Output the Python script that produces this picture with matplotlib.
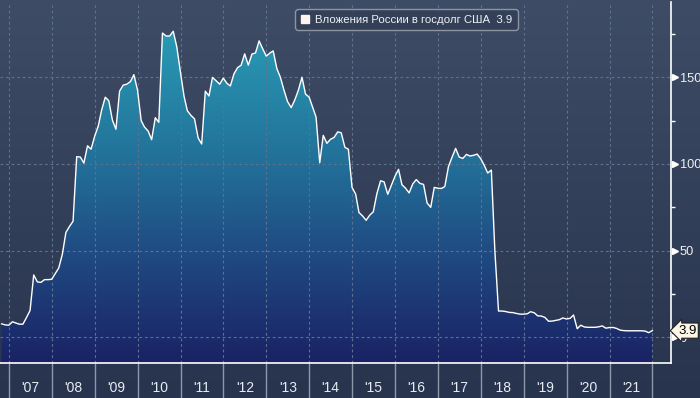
import matplotlib
matplotlib.use("Agg")
import matplotlib.pyplot as plt
import matplotlib.dates as mdates
import numpy as np
import pandas as pd
from matplotlib.colors import LinearSegmentedColormap
from matplotlib.lines import Line2D

plt.rcParams['font.family'] = ['Liberation Sans', 'DejaVu Sans']

# Вложения России в госдолг США, млрд долл. (месячные данные, окт. 2006 - дек. 2021)
start = '2006-10-31'
values = [
    7.8, 7.2, 7.0,
    9.0, 8.3, 7.6, 7.6, 11.5, 15.5, 36.0, 32.0, 31.7, 33.3, 33.3, 33.5,
    36.9, 40.0, 48.0, 60.5, 64.0, 67.0, 104.2, 104.0, 100.5, 110.5, 108.5, 116.0,
    122.0, 131.0, 138.5, 136.5, 125.3, 120.0, 142.0, 145.5, 146.0, 147.5, 151.5, 142.5,
    125.0, 121.3, 119.0, 114.0, 126.7, 124.0, 175.5, 173.8, 173.8, 176.5, 167.6, 153.0,
    139.0, 130.7, 128.0, 126.0, 115.0, 111.5, 142.0, 139.2, 149.9, 148.0, 146.0, 149.5,
    146.5, 145.0, 152.0, 155.5, 157.0, 163.5, 157.0, 163.4, 164.0, 171.0, 166.5, 162.2,
    164.0, 165.2, 155.0, 150.0, 142.5, 136.0, 132.5, 137.0, 142.5, 150.0, 140.3, 138.5,
    132.5, 127.0, 100.7, 116.5, 111.9, 114.2, 115.3, 118.5, 118.0, 109.6, 108.5, 86.5,
    82.6, 72.0, 70.0, 67.5, 70.5, 72.4, 83.0, 90.3, 89.7, 82.5, 87.5, 92.8,
    96.9, 88.0, 86.0, 83.3, 88.5, 91.0, 88.8, 88.2, 77.5, 75.0, 86.5, 86.0,
    85.9, 87.0, 98.5, 103.8, 109.0, 104.0, 103.2, 105.5, 104.6, 105.0, 105.7, 103.0,
    99.0, 94.8, 96.5, 50.0, 15.2, 15.2, 14.9, 14.4, 14.3, 13.8, 13.4, 13.4,
    13.6, 14.8, 14.2, 12.4, 12.3, 11.5, 9.3, 9.4, 9.8, 10.2, 11.2, 10.6,
    11.0, 12.9, 5.0, 7.0, 6.0, 5.8, 5.8, 5.8, 6.1, 6.6, 5.3, 5.7,
    5.7, 5.2, 4.2, 3.9, 3.8, 3.8, 3.8, 3.8, 3.8, 3.6, 2.7, 3.9,
]
dates = pd.date_range(start, periods=len(values), freq='ME')

series_label = 'Вложения России в госдолг США'
last_value = 3.9
years = list(range(2007, 2022))
year_labels = ["'%02d" % (y % 100) for y in years]
y_major = [0, 50, 100, 150]
y_minor = [25, 75, 125, 175]

xmin, xmax = pd.Timestamp('2006-10-17'), pd.Timestamp('2022-06-05')
ymin, ymax = -14.6, 193.4

fig = plt.figure(figsize=(7, 3.98), dpi=100)

# фон всей картинки - вертикальный градиент
bg = fig.add_axes([0, 0, 1, 1], zorder=-10)
bg_cmap = LinearSegmentedColormap.from_list('bg', ['#28344e', '#3f4c66'])
bg.imshow(np.linspace(0, 1, 256).reshape(-1, 1), aspect='auto', cmap=bg_cmap,
          origin='lower', extent=[0, 1, 0, 1])
bg.axis('off')

ax = fig.add_axes([0, 35.3 / 398, 670.7 / 700, 360.7 / 398])
ax.set_facecolor('none')

# заливка с градиентом под линией
fill_cmap = LinearSegmentedColormap.from_list(
    'fill', [(0.0, '#1a2264'), (0.3, '#1f4a82'), (0.55, '#226f98'), (1.0, '#2aa4bb')])
poly = ax.fill_between(dates, values, ymin, facecolor='none', edgecolor='none')
x0n, x1n = mdates.date2num(xmin), mdates.date2num(xmax)
im = ax.imshow(np.linspace(0, 1, 256).reshape(-1, 1), aspect='auto', cmap=fill_cmap,
               origin='lower', extent=[x0n, x1n, ymin, ymax], zorder=1)
im.set_clip_path(poly.get_paths()[0], ax.transData)
ax.set_xlim(xmin, xmax)
ax.set_ylim(ymin, ymax)

ax.plot(dates, values, color='white', lw=1.0, zorder=3)

# сетка
grid_kw = dict(color='#5d7190', lw=0.8, linestyle=(0, (2.5, 2.5)), zorder=2)
for v in y_major:
    ax.axhline(v, **grid_kw)
for y in years + [2022]:
    ax.axvline(pd.Timestamp(f'{y}-01-01'), **grid_kw)

# ось X: разделители годов и подписи по центру года
ax.set_xticks([pd.Timestamp(f'{y}-01-01') for y in years + [2022]])
ax.set_xticks([pd.Timestamp(f'{y}-07-02') for y in years], minor=True)
ax.set_xticklabels([], minor=False)
ax.set_xticklabels(year_labels, minor=True)
ax.tick_params(axis='x', which='major', direction='out', length=26, width=1, color='#8e98aa')
ax.tick_params(axis='x', which='minor', length=0, pad=13.5, labelsize=10, labelcolor='#e8ecf2')

# ось Y справа
ax.yaxis.tick_right()
ax.set_yticks(y_major)
ax.set_yticks(y_minor, minor=True)
ax.set_yticklabels([str(v) for v in y_major])
ax.tick_params(axis='y', which='major', length=0, pad=6.5, labelsize=9.2, labelcolor='#eef1f5')
ax.tick_params(axis='y', which='minor', direction='out', length=3, width=1, color='white')
tri_tr = ax.get_yaxis_transform()
ax.plot([1.006] * len(y_major), y_major, transform=tri_tr, marker='>', ms=5,
        color='white', linestyle='none', clip_on=False, zorder=4)

for side in ['top', 'left']:
    ax.spines[side].set_visible(False)
ax.spines['right'].set_color('white')
ax.spines['bottom'].set_color('white')
ax.spines['right'].set_linewidth(1.2)
ax.spines['bottom'].set_linewidth(1.2)

# метка последнего значения
ax.annotate(f'{last_value}', xy=(1.0, last_value), xycoords=tri_tr,
            xytext=(5.5, 0), textcoords='offset points', ha='left', va='center',
            fontsize=9.5, color='black', zorder=6, annotation_clip=False,
            bbox=dict(boxstyle='larrow,pad=0.12', fc='#fdf6e6', ec='#222222', lw=0.8))

# легенда
handle = Line2D([], [], marker='s', color='#fff4ee', linestyle='none', markersize=6)
leg = ax.legend([handle], [f'{series_label}  {last_value}'], loc='upper center',
                bbox_to_anchor=(0.606, 0.995), fontsize=8.2, frameon=True, fancybox=True,
                handlelength=0.8, handletextpad=0.5, borderpad=0.45, labelcolor='#eef1f5')
leg.get_frame().set_facecolor('#323d55')
leg.get_frame().set_edgecolor('#a2a8b3')
leg.get_frame().set_linewidth(1.0)

fig.savefig('out.png', dpi=100)
